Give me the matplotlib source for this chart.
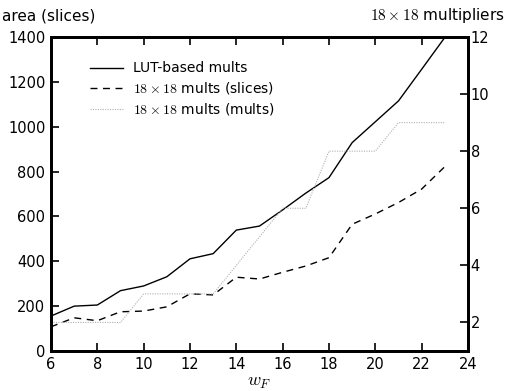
import matplotlib
matplotlib.use("Agg")
import matplotlib.pyplot as plt

plt.rcParams['font.family'] = ['DejaVu Sans']
plt.rcParams['mathtext.fontset'] = 'cm'

wF = [6, 7, 8, 9, 10, 11, 12, 13, 14, 15, 16, 17, 18, 19, 20, 21, 22, 23]
lut_slices = [156, 200, 205, 269, 290, 331, 411, 434, 539, 557, 629, 704, 773, 929, 1022, 1115, 1256, 1398]
dsp_slices = [108, 148, 135, 175, 178, 197, 255, 250, 329, 321, 351, 379, 416, 565, 611, 662, 722, 822]
dsp_mults = [2, 2, 2, 2, 3, 3, 3, 3, 4, 5, 6, 6, 8, 8, 8, 9, 9, 9]

xticks = [6, 8, 10, 12, 14, 16, 18, 20, 22, 24]
yticks_left = [0, 200, 400, 600, 800, 1000, 1200, 1400]
yticks_right = [2, 4, 6, 8, 10, 12]

fig = plt.figure(figsize=(5.10, 3.91), dpi=100)
ax = fig.add_axes([0.1, 0.1023, 0.8176, 0.8031])
ax2 = ax.twinx()

l1, = ax.plot(wF, lut_slices, color='black', lw=1.0, label='LUT-based mults')
l2, = ax.plot(wF, dsp_slices, color='black', lw=1.0, ls=(0, (5, 4)), label=r'$18\times18$ mults (slices)')
l3, = ax2.plot(wF, dsp_mults, color='#b0b0b0', lw=0.8, ls=(0, (1, 1.2)), label=r'$18\times18$ mults (mults)')

ax.set_xlim(6, 24)
ax.set_ylim(0, 1400)
ax2.set_ylim(1, 12)
ax.set_xticks(xticks)
ax.set_yticks(yticks_left)
ax2.set_yticks(yticks_right)

for a in (ax, ax2):
    for s in a.spines.values():
        s.set_linewidth(2.0)

ax.tick_params(axis='x', direction='in', top=True, bottom=True, length=6, width=1.2, labelsize=10.5, pad=4)
ax.tick_params(axis='y', direction='in', left=True, right=False, length=6, width=1.2, labelsize=10.5, pad=4)
ax2.tick_params(axis='y', direction='in', left=False, right=True, length=6, width=1.2, labelsize=10.5, pad=2)

ax.set_xlabel(r'$w_F$', fontsize=13, labelpad=1)
fig.text(0.004, 0.96, 'area (slices)', fontsize=11, ha='left', va='center')
fig.text(0.99, 0.96, r'$18\times18$ multipliers', fontsize=11, ha='right', va='center')

leg = ax.legend(handles=[l1, l2, l3], loc='upper left', bbox_to_anchor=(0.08, 0.94),
                frameon=False, fontsize=10, handlelength=2.4, handletextpad=0.7,
                labelspacing=0.35, borderaxespad=0)

fig.savefig('out.png', dpi=100)
